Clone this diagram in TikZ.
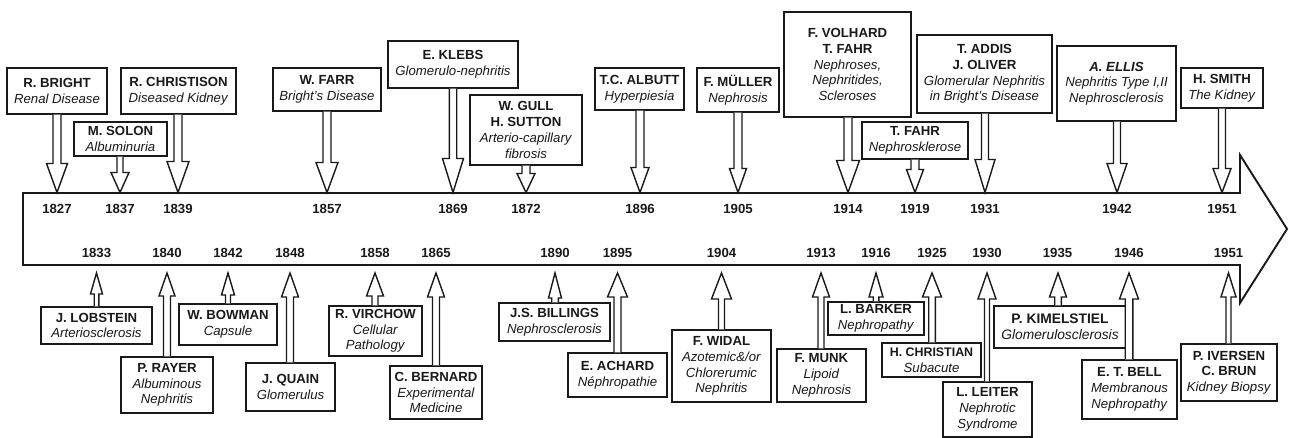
\documentclass[tikz,border=0pt]{standalone}
\usepackage{fontspec}
\setmainfont{Liberation Sans}
\usetikzlibrary{calc}
\definecolor{ink}{RGB}{25,25,25}
\newcommand\evfont{\fontsize{13.2}{15.7}\selectfont}
\tikzset{
  evbox/.style={draw=ink, line width=1.4pt, fill=white, inner sep=0pt, align=center, font=\evfont, text=ink},
  yr/.style={font=\evfont\bfseries, inner sep=0pt, text=ink},
  conn/.style={draw=ink, line width=1.4pt, fill=white, line join=miter},
  bigarrow/.style={draw=ink, line width=1.9pt, line join=miter},
}
% box: [extra], name, x1, x2, y1, y2, text
\newcommand\ev[7][]{%
  \node[evbox, minimum width={(#4-#3)*1pt}, minimum height={(#6-#5)*1pt}, #1] (#2) at ({(#3+#4)/2},{(#5+#6)/2}) {#7};}
% down arrow: box, tip, shaft half width, head half width, head length
\newcommand\arrdn[5]{%
  \path[conn] let \p1=(#2), \p2=(#1.south) in
    (\x1-#3pt,\y2) -- (\x1-#3pt,\y1+#5pt) -- (\x1-#4pt,\y1+#5pt) -- (\x1,\y1)
    -- (\x1+#4pt,\y1+#5pt) -- (\x1+#3pt,\y1+#5pt) -- (\x1+#3pt,\y2);}
% up arrow: box, tip, shaft half width, head half width, head length
\newcommand\arrup[5]{%
  \path[conn] let \p1=(#2), \p2=(#1.north) in
    (\x1-#3pt,\y2) -- (\x1-#3pt,\y1-#5pt) -- (\x1-#4pt,\y1-#5pt) -- (\x1,\y1)
    -- (\x1+#4pt,\y1-#5pt) -- (\x1+#3pt,\y1-#5pt) -- (\x1+#3pt,\y2);}
\newcommand\evb[1]{\textbf{#1}}
\newcommand\evi[1]{\textit{#1}}
\begin{document}
\begin{tikzpicture}[x=1pt,y=-1pt]
\useasboundingbox (0,0) rectangle (1289,438);

% main timeline arrow
\draw[bigarrow] (23,193) -- (1240,193) -- (1240,155) -- (1287,229) -- (1240,303) -- (1240,265) -- (23,265) -- cycle;

% ---------- top events ----------
\ev{bright}{7}{107}{68}{114}{\evb{R. BRIGHT}\\\evi{Renal Disease}}
\ev{solon}{74}{167}{122}{156}{\evb{M. SOLON}\\\evi{Albuminuria}}
\ev{christison}{121}{236}{68}{114}{\evb{R. CHRISTISON}\\\evi{Diseased Kidney}}
\ev{farr}{273}{381}{68}{111}{\evb{W. FARR}\\\evi{Bright’s Disease}}
\ev{klebs}{388}{518}{41}{88}{\evb{E. KLEBS}\\\evi{Glomerulo-nephritis}}
\ev{gull}{470}{582}{95}{165}{\evb{W. GULL}\\\evb{H. SUTTON}\\\evi{Arterio-capillary}\\\evi{fibrosis}}
\ev{albutt}{595}{684}{68}{110}{\evb{T.C. ALBUTT}\\\evi{Hyperpiesia}}
\ev{muller}{697}{779}{68}{112}{\evb{F. MÜLLER}\\\evi{Nephrosis}}
\ev{volhard}{784}{911}{12}{117}{\evb{F. VOLHARD}\\\evb{T. FAHR}\\\evi{Nephroses,}\\\evi{Nephritides,}\\\evi{Scleroses}}
\ev{fahr}{862}{968}{122}{159}{\evb{T. FAHR}\\\evi{Nephrosklerose}}
\ev{addis}{917}{1052}{35}{113}{\evb{T. ADDIS}\\\evb{J. OLIVER}\\\evi{Glomerular Nephritis}\\\evi{in Bright’s Disease}}
\ev{ellis}{1057}{1176}{46}{121}{\textbf{\textit{A. ELLIS}}\\\evi{Nephritis Type I,II}\\\evi{Nephrosclerosis}}
\ev{smith}{1181}{1263}{68}{108}{\evb{H. SMITH}\\\evi{The Kidney}}

\coordinate (tbright) at (57,192.5);
\coordinate (tsolon) at (120,192.5);
\coordinate (tchristison) at (178,192.5);
\coordinate (tfarr) at (327,192.5);
\coordinate (tklebs) at (453,192.5);
\coordinate (tgull) at (526,192.5);
\coordinate (talbutt) at (640,192.5);
\coordinate (tmuller) at (738,192.5);
\coordinate (tvolhard) at (848,192.5);
\coordinate (tfahr) at (915,192.5);
\coordinate (taddis) at (985,192.5);
\coordinate (tellis) at (1117,192.5);
\coordinate (tsmith) at (1222,192.5);

\arrdn{bright}{tbright}{4}{10.5}{29}
\arrdn{solon}{tsolon}{3}{9}{20}
\arrdn{christison}{tchristison}{4}{11}{31}
\arrdn{farr}{tfarr}{4}{11}{30}
\arrdn{klebs}{tklebs}{3.7}{10.5}{34}
\arrdn{gull}{tgull}{4}{9}{19}
\arrdn{albutt}{talbutt}{4}{9}{25}
\arrdn{muller}{tmuller}{4}{8.5}{24}
\arrdn{volhard}{tvolhard}{4}{11.5}{32}
\arrdn{fahr}{tfahr}{4}{8.5}{23}
\arrdn{addis}{taddis}{3.5}{10}{33}
\arrdn{ellis}{tellis}{3.5}{10}{29}
\arrdn{smith}{tsmith}{3.5}{9}{24}

% top years
\node[yr] (y1827) at (57,209) {1827};
\node[yr] (y1837) at (120,209) {1837};
\node[yr] (y1839) at (178,209) {1839};
\node[yr] (y1857) at (327,209) {1857};
\node[yr] (y1869) at (453,209) {1869};
\node[yr] (y1872) at (526,209) {1872};
\node[yr] (y1896) at (640,209) {1896};
\node[yr] (y1905) at (738,209) {1905};
\node[yr] (y1914) at (848,209) {1914};
\node[yr] (y1919) at (915,209) {1919};
\node[yr] (y1931) at (985,209) {1931};
\node[yr] (y1942) at (1117,209) {1942};
\node[yr] (y1951a) at (1222,209) {1951};

% bottom years
\node[yr] (y1833) at (96.5,253) {1833};
\node[yr] (y1840) at (167,253) {1840};
\node[yr] (y1842) at (228,253) {1842};
\node[yr] (y1848) at (290,253) {1848};
\node[yr] (y1858) at (375,253) {1858};
\node[yr] (y1865) at (436,253) {1865};
\node[yr] (y1890) at (555,253) {1890};
\node[yr] (y1895) at (617.5,253) {1895};
\node[yr] (y1904) at (721.5,253) {1904};
\node[yr] (y1913) at (821,253) {1913};
\node[yr] (y1916) at (876,253) {1916};
\node[yr] (y1925) at (932,253) {1925};
\node[yr] (y1930) at (987,253) {1930};
\node[yr] (y1935) at (1057.5,253) {1935};
\node[yr] (y1946) at (1129,253) {1946};
\node[yr] (y1951b) at (1228.5,253) {1951};

% ---------- bottom events ----------
\ev{lobstein}{41}{152}{307}{344}{\evb{J. LOBSTEIN}\\\evi{Arteriosclerosis}}
\ev{rayer}{121}{213}{357}{413}{\evb{P. RAYER}\\\evi{Albuminous}\\\evi{Nephritis}}
\ev{bowman}{179}{277}{304}{345}{\evb{W. BOWMAN}\\\evi{Capsule}}
\ev{quain}{246}{335}{363}{411}{\evb{J. QUAIN}\\\evi{Glomerulus}}
\ev{virchow}{329}{422}{306}{356}{\evb{R. VIRCHOW}\\\evi{Cellular}\\\evi{Pathology}}
\ev{bernard}{390}{482}{366}{419}{\evb{C. BERNARD}\\\evi{Experimental}\\\evi{Medicine}}
\ev{billings}{499}{610}{303}{341}{\evb{J.S. BILLINGS}\\\evi{Nephrosclerosis}}
\ev{achard}{568}{667}{353}{397}{\evb{E. ACHARD}\\\evi{Néphropathie}}
\ev{widal}{672}{771}{330}{402}{\evb{F. WIDAL}\\\evi{Azotemic\&/or}\\\evi{Chlorerumic}\\\evi{Nephritis}}
\ev{munk}{777}{866}{349}{402}{\evb{F. MUNK}\\\evi{Lipoid}\\\evi{Nephrosis}}
\ev{barker}{828}{924}{302}{335}{\evb{L. BARKER}\\\evi{Nephropathy}}
\ev{christian}{882}{981}{343}{377}{{\fontsize{12.4}{15.7}\selectfont\evb{H. CHRISTIAN}}\\\evi{Subacute}}
\ev{leiter}{943}{1032}{382}{437}{\evb{L. LEITER}\\\evi{Nephrotic}\\\evi{Syndrome}}
\ev[font=\fontsize{13.8}{16}\selectfont]{kimelstiel}{994}{1126}{306}{348}{\evb{P. KIMELSTIEL}\\\evi{Glomerulosclerosis}}
\ev{bell}{1082}{1177}{360}{419}{\evb{E. T. BELL}\\\evi{Membranous}\\\evi{Nephropathy}}
\ev{iversen}{1181}{1277}{344}{401}{\evb{P. IVERSEN}\\\evb{C. BRUN}\\\evi{Kidney Biopsy}}

\coordinate (blobstein) at (96.5,273);
\coordinate (brayer) at (167,273);
\coordinate (bbowman) at (228,273);
\coordinate (bquain) at (290,273);
\coordinate (bvirchow) at (375,273);
\coordinate (bbernard) at (436,273);
\coordinate (bbillings) at (555,273);
\coordinate (bachard) at (617.5,273);
\coordinate (bwidal) at (721.5,273);
\coordinate (bmunk) at (821,273);
\coordinate (bbarker) at (876,273);
\coordinate (bchristian) at (932,273);
\coordinate (bleiter) at (987,273);
\coordinate (bkimelstiel) at (1058,273);
\coordinate (bbell) at (1129,273);
\coordinate (biversen) at (1228.5,273);

\arrup{lobstein}{blobstein}{2.3}{6}{21}
\arrup{rayer}{brayer}{3.5}{8}{23}
\arrup{bowman}{bbowman}{2.5}{6.5}{22}
\arrup{quain}{bquain}{3.5}{8.5}{24}
\arrup{virchow}{bvirchow}{3}{8.5}{23}
\arrup{bernard}{bbernard}{3.5}{8.5}{24}
\arrup{billings}{bbillings}{3.3}{6.5}{25}
\arrup{achard}{bachard}{3.5}{10}{24}
\arrup{widal}{bwidal}{3}{10}{26}
\arrup{munk}{bmunk}{3}{8.5}{24}
\arrup{barker}{bbarker}{2.8}{7}{24}
\arrup{christian}{bchristian}{3.3}{9.5}{24}
\arrup{leiter}{bleiter}{2.5}{9}{26}
\arrup{kimelstiel}{bkimelstiel}{3.3}{8.5}{24}
\arrup{bell}{bbell}{3.8}{9.5}{26}
\arrup{iversen}{biversen}{2.5}{7.5}{24}
\end{tikzpicture}
\end{document}
